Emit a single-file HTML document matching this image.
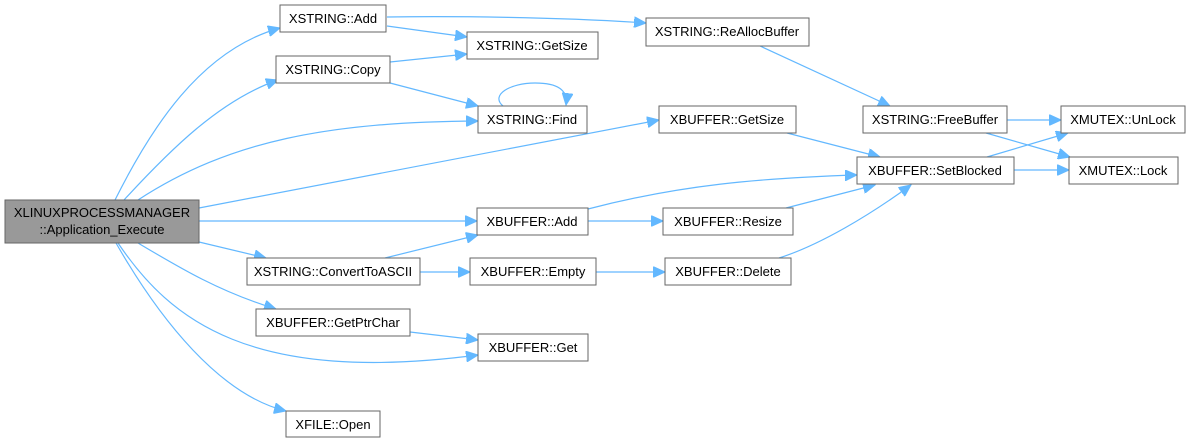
<!DOCTYPE html>
<html><head><meta charset="utf-8"><style>
html,body{margin:0;padding:0;background:#fff;}
svg{display:block;}
text{font-family:"Liberation Sans",Arial,sans-serif;font-size:13px;fill:#000;}
.n{fill:#fff;stroke:#666;stroke-width:1;}
.e{fill:none;stroke:#63b8ff;stroke-width:1.2;}
</style></head><body>
<svg width="1188" height="443" viewBox="0 0 1188 443" xmlns="http://www.w3.org/2000/svg">
<defs><marker id="a" markerUnits="userSpaceOnUse" markerWidth="13" markerHeight="11" refX="12" refY="5.5" orient="auto"><path d="M0,0 L12,5.5 L0,11 Z" fill="#63b8ff" stroke="#63b8ff"/></marker></defs>
<g marker-end="url(#a)">
<path class="e" d="M115,200 C150,130 200,50 280,28"/>
<path class="e" d="M124,200 C170,150 220,100 278,80"/>
<path class="e" d="M138,200 C230,140 330,122 478,121"/>
<path class="e" d="M199,208 L659,120"/>
<path class="e" d="M199,221 L477,221"/>
<path class="e" d="M199,242 L266,258"/>
<path class="e" d="M138,243 C180,268 220,292 276,309"/>
<path class="e" d="M118,243 C170,320 250,385 478,355"/>
<path class="e" d="M116,243 C160,320 220,395 286,411"/>
<path class="e" d="M387,26 L467,37"/>
<path class="e" d="M387,17 C450,16 560,17 646,23"/>
<path class="e" d="M390,62 L467,54"/>
<path class="e" d="M390,83 L478,106"/>
<path class="e" d="M503,106 C490,95 510,83 535,83 C558,83 568,90 566,105"/>
<path class="e" d="M760,46 L890,106"/>
<path class="e" d="M787,133 L880,157"/>
<path class="e" d="M1007,120 L1061,120"/>
<path class="e" d="M986,133 L1070,157"/>
<path class="e" d="M987,157 L1068,133"/>
<path class="e" d="M1014,170 L1069,170"/>
<path class="e" d="M588,209 C680,185 760,178 857,175"/>
<path class="e" d="M588,221 L663,221"/>
<path class="e" d="M786,208 L875,185"/>
<path class="e" d="M385,258 L478,235"/>
<path class="e" d="M420,272 L470,272"/>
<path class="e" d="M596,272 L665,272"/>
<path class="e" d="M779,258 C820,245 870,215 911,185"/>
<path class="e" d="M410,332 L478,340"/>
</g>
<rect x="5" y="200" width="194" height="43" fill="#999" stroke="#666"/>
<text x="102" y="217" text-anchor="middle">XLINUXPROCESSMANAGER</text>
<text x="102" y="234" text-anchor="middle">::Application_Execute</text>
<g text-anchor="middle">
<rect class="n" x="280" y="5" width="106" height="27"/><text x="333" y="23">XSTRING::Add</text>
<rect class="n" x="467" y="32" width="131" height="27"/><text x="532" y="50">XSTRING::GetSize</text>
<rect class="n" x="276" y="56" width="114" height="27"/><text x="333" y="74">XSTRING::Copy</text>
<rect class="n" x="478" y="106" width="109" height="27"/><text x="532" y="124">XSTRING::Find</text>
<rect class="n" x="477" y="208" width="111" height="27"/><text x="532" y="226">XBUFFER::Add</text>
<rect class="n" x="247" y="258" width="173" height="27"/><text x="333" y="276">XSTRING::ConvertToASCII</text>
<rect class="n" x="470" y="258" width="126" height="27"/><text x="533" y="276">XBUFFER::Empty</text>
<rect class="n" x="256" y="309" width="154" height="27"/><text x="333" y="327">XBUFFER::GetPtrChar</text>
<rect class="n" x="478" y="334" width="110" height="27"/><text x="533" y="352">XBUFFER::Get</text>
<rect class="n" x="286" y="411" width="94" height="26"/><text x="333" y="429">XFILE::Open</text>
<rect class="n" x="646" y="18" width="163" height="28"/><text x="727" y="36">XSTRING::ReAllocBuffer</text>
<rect class="n" x="659" y="106" width="137" height="27"/><text x="727" y="124">XBUFFER::GetSize</text>
<rect class="n" x="863" y="106" width="144" height="27"/><text x="935" y="124">XSTRING::FreeBuffer</text>
<rect class="n" x="1061" y="106" width="124" height="27"/><text x="1123" y="124">XMUTEX::UnLock</text>
<rect class="n" x="857" y="157" width="157" height="27"/><text x="935" y="175">XBUFFER::SetBlocked</text>
<rect class="n" x="1069" y="157" width="109" height="27"/><text x="1123" y="175">XMUTEX::Lock</text>
<rect class="n" x="663" y="208" width="130" height="27"/><text x="728" y="226">XBUFFER::Resize</text>
<rect class="n" x="665" y="258" width="126" height="27"/><text x="728" y="276">XBUFFER::Delete</text>
</g>
</svg>
</body></html>
